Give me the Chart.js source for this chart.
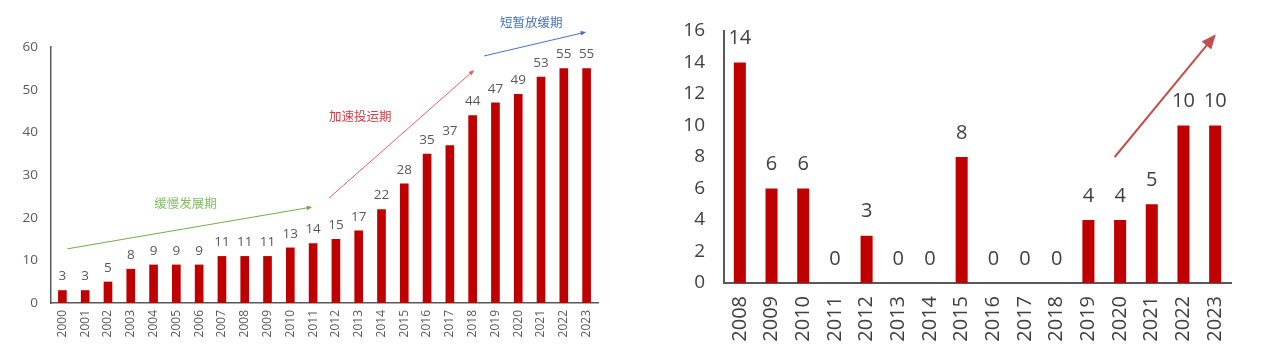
<!DOCTYPE html>
<html>
<head>
<meta charset="utf-8">
<script src="https://cdn.jsdelivr.net/npm/chart.js@4.4.1/dist/chart.umd.min.js"></script>
<style>
  html,body{margin:0;padding:0;background:#fff;}
  body{width:1267px;height:361px;position:relative;overflow:hidden;}
  #wl{position:absolute;left:0;top:0;width:640px;height:361px;}
  #wr{position:absolute;left:660px;top:0;width:607px;height:361px;}
</style>
</head>
<body>
<div id="wl"><canvas id="cl"></canvas></div>
<div id="wr"><canvas id="cr"></canvas></div>
<script>
// ---- data ----
const leftYears = ['2000','2001','2002','2003','2004','2005','2006','2007','2008','2009','2010','2011','2012','2013','2014','2015','2016','2017','2018','2019','2020','2021','2022','2023'];
const leftValues = [3,3,5,8,9,9,9,11,11,11,13,14,15,17,22,28,35,37,44,47,49,53,55,55];
const leftTicks = [0,10,20,30,40,50,60];
const phaseLabels = ['缓慢发展期','加速投运期','短暂放缓期'];

const rightYears = ['2008','2009','2010','2011','2012','2013','2014','2015','2016','2017','2018','2019','2020','2021','2022','2023'];
const rightValues = [14,6,6,0,3,0,0,8,0,0,0,4,4,5,10,10];
const rightTicks = [0,2,4,6,8,10,12,14,16];

const BAR = '#C00000';
const FONT = "'Open Sans', 'Noto Sans CJK SC', sans-serif";

// value labels above bars
const valueLabels = {
  id: 'valueLabels',
  afterDatasetsDraw(chart, args, opts) {
    const ctx = chart.ctx;
    const meta = chart.getDatasetMeta(0);
    const data = chart.data.datasets[0].data;
    ctx.save();
    ctx.font = opts.size + 'px ' + FONT;
    ctx.fillStyle = opts.color;
    ctx.textAlign = 'center';
    ctx.textBaseline = 'bottom';
    meta.data.forEach((bar, i) => {
      ctx.fillText(String(data[i]), bar.x, bar.y - opts.gap);
    });
    ctx.restore();
  }
};

// arrows and phase texts placed in data coordinates
function drawArrow(ctx, x1, y1, x2, y2, color, width, head) {
  const a = Math.atan2(y2 - y1, x2 - x1);
  ctx.strokeStyle = color; ctx.fillStyle = color; ctx.lineWidth = width;
  ctx.beginPath();
  ctx.moveTo(x1, y1);
  ctx.lineTo(x2 - Math.cos(a) * head * 0.8, y2 - Math.sin(a) * head * 0.8);
  ctx.stroke();
  ctx.beginPath();
  ctx.moveTo(x2, y2);
  ctx.lineTo(x2 - head * Math.cos(a - 0.4), y2 - head * Math.sin(a - 0.4));
  ctx.lineTo(x2 - head * Math.cos(a + 0.4), y2 - head * Math.sin(a + 0.4));
  ctx.closePath();
  ctx.fill();
}
const arrows = {
  id: 'arrows',
  afterDraw(chart, args, opts) {
    const ctx = chart.ctx;
    const xs = chart.scales.x, ys = chart.scales.y;
    ctx.save();
    (opts.items || []).forEach(it => {
      drawArrow(ctx,
        xs.getPixelForValue(it.from[0]), ys.getPixelForValue(it.from[1]),
        xs.getPixelForValue(it.to[0]), ys.getPixelForValue(it.to[1]),
        it.color, it.width, it.head);
      if (it.text) {
        ctx.font = it.textSize + 'px ' + FONT;
        ctx.fillStyle = it.textColor || it.color;
        ctx.textAlign = 'center';
        ctx.textBaseline = 'middle';
        ctx.fillText(it.text, xs.getPixelForValue(it.at[0]), ys.getPixelForValue(it.at[1]));
      }
    });
    ctx.restore();
  }
};

function makeChart(id, labels, values, ticks, cfg) {
  return new Chart(document.getElementById(id), {
    type: 'bar',
    data: {
      labels: labels,
      datasets: [{ data: values, backgroundColor: BAR, barPercentage: 0.38, categoryPercentage: 1 }]
    },
    options: {
      responsive: true,
      maintainAspectRatio: false,
      animation: false,
      layout: { padding: cfg.padding },
      plugins: {
        legend: { display: false },
        tooltip: { enabled: false },
        valueLabels: cfg.labels,
        arrows: { items: cfg.arrows }
      },
      scales: {
        x: {
          grid: { display: false, drawTicks: false },
          border: { display: true, color: '#595959', width: cfg.axisW },
          ticks: { color: cfg.tickColor, font: { family: FONT, size: cfg.xSize }, maxRotation: 90, minRotation: 90, padding: cfg.xPad, autoSkip: false },
          afterFit(s) { s.height = cfg.xHeight; }
        },
        y: {
          min: 0, max: ticks[ticks.length - 1],
          afterBuildTicks(s) { s.ticks = ticks.map(v => ({ value: v })); },
          grid: { display: false, drawTicks: false },
          border: { display: true, color: '#595959', width: cfg.axisW },
          ticks: { color: cfg.tickColor, font: { family: FONT, size: cfg.ySize }, padding: cfg.yPad },
          afterFit(s) { s.width = cfg.yWidth; }
        }
      }
    },
    plugins: [valueLabels, arrows]
  });
}

makeChart('cl', leftYears, leftValues, leftTicks, {
  padding: { left: 0, top: 47, right: 42, bottom: 0 },
  yWidth: 51, xHeight: 58, axisW: 1.5,
  tickColor: '#595959', xSize: 12, ySize: 13.5, xPad: 7, yPad: 13,
  labels: { size: 13.5, color: '#595959', gap: 7 },
  arrows: [
    { from: [0.22, 12.7], to: [10.96, 22.5], color: '#70AD47', textColor: '#7CBF5C', width: 1, head: 6, text: phaseLabels[0], at: [5.4, 23.2], textSize: 12.5 },
    { from: [11.7, 24.6], to: [18.07, 54.6], color: '#E0605E', textColor: '#D43C44', width: 1, head: 6, text: phaseLabels[1], at: [13.07, 43.6], textSize: 12.5 },
    { from: [18.5, 57.9], to: [22.98, 63.5], color: '#4472C4', width: 1, head: 6, text: phaseLabels[2], at: [20.57, 65.5], textSize: 12.5 }
  ]
});

makeChart('cr', rightYears, rightValues, rightTicks, {
  padding: { left: 0, top: 31, right: 36, bottom: 0 },
  yWidth: 64, xHeight: 78, axisW: 2,
  tickColor: '#404040', xSize: 20, ySize: 19, xPad: 13, yPad: 19,
  labels: { size: 20, color: '#404040', gap: 14 },
  arrows: [
    { from: [11.83, 8.0], to: [15.02, 15.8], color: '#C0504D', width: 2, head: 16 }
  ]
});
</script>
</body>
</html>
